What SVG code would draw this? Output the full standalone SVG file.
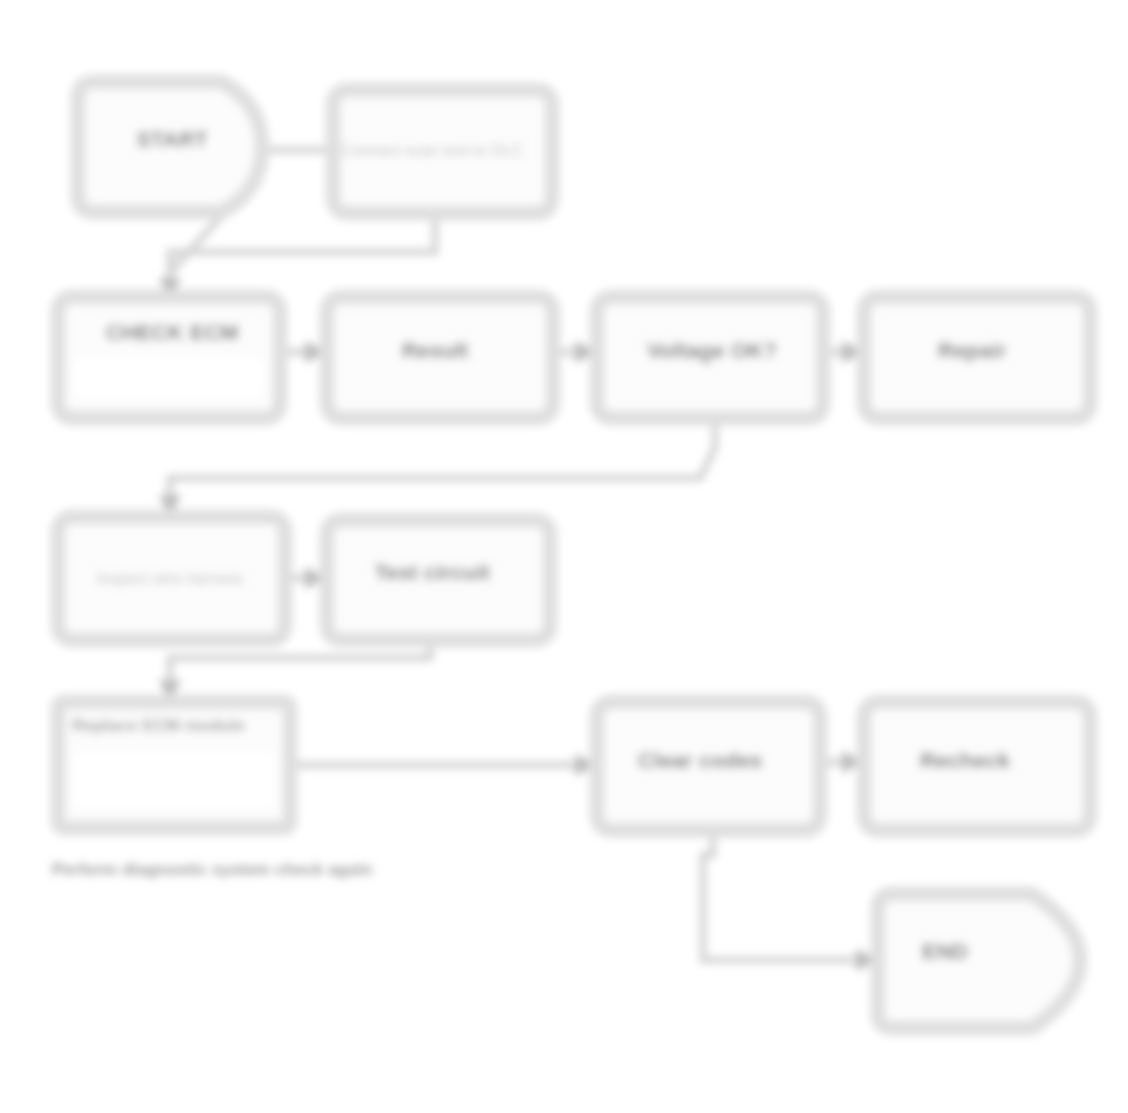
<svg xmlns="http://www.w3.org/2000/svg" width="1128" height="1113" viewBox="0 0 1128 1113">
<defs>
<filter id="soft" x="-5%" y="-5%" width="110%" height="110%"><feGaussianBlur stdDeviation="4"/></filter>
<marker id="arr" viewBox="0 0 10 10" refX="9" refY="5" markerWidth="3.2" markerHeight="3.2" orient="auto"><path d="M0,0 L10,5 L0,10 z" fill="#bdbdbd"/></marker>
</defs>
<style>
.box{fill:#fcfcfc;stroke:#dfdfdf;stroke-width:15}
.inner{fill:#ffffff;stroke:none}
.t{font-family:"Liberation Sans",Arial,sans-serif;font-weight:bold;font-size:22px;fill:#6e6e6e;text-anchor:middle}
.thin{font-family:"Liberation Sans",Arial,sans-serif;font-size:16px;fill:#bdbdbd;text-anchor:middle}
.small{font-family:"Liberation Sans",Arial,sans-serif;font-weight:bold;font-size:17px;fill:#9a9a9a}
.c{fill:none;stroke:#d4d4d4;stroke-width:7}
</style>
<rect width="1128" height="1113" fill="#ffffff"/>
<g filter="url(#soft)">
<g id="connectors">
<line class="c" x1="262" y1="150" x2="332" y2="150"/>
<polyline class="c" points="435,213 435,252 170,252 170,298" marker-end="url(#arr)"/>
<polyline class="c" points="225,212 168,275"/>
<line class="c" x1="280" y1="352" x2="325" y2="352" marker-end="url(#arr)"/>
<line class="c" x1="553" y1="352" x2="595" y2="352" marker-end="url(#arr)"/>
<line class="c" x1="823" y1="352" x2="862" y2="352" marker-end="url(#arr)"/>
<polyline class="c" points="715,418 715,448 700,478 170,478 170,515" marker-end="url(#arr)"/>
<line class="c" x1="285" y1="578" x2="325" y2="578" marker-end="url(#arr)"/>
<polyline class="c" points="430,640 430,658 170,658 170,700" marker-end="url(#arr)"/>
<line class="c" x1="290" y1="765" x2="595" y2="765" marker-end="url(#arr)"/>
<line class="c" x1="820" y1="762" x2="862" y2="762" marker-end="url(#arr)"/>
<polyline class="c" points="713,830 713,855 703,855 703,960 876,960" marker-end="url(#arr)"/>
</g>
<g id="nA">
<path class="box" d="M94 82 H222 Q262 104 262 147 Q262 190 222 212 H94 Q78 212 78 196 V98 Q78 82 94 82 Z"/>
<text class="t" x="172" y="147">START</text>
</g>
<g id="nB">
<rect class="box" x="333" y="90" width="219" height="123" rx="14"/>
<text class="thin" x="432" y="156">Connect scan tool to DLC</text>
</g>
<g id="nC">
<rect class="box" x="58" y="297" width="222" height="121" rx="14"/>
<rect class="inner" x="74" y="358" width="190" height="40" rx="8"/>
<text class="t" x="172" y="340" font-size="26">CHECK ECM</text>
</g>
<g id="nD">
<rect class="box" x="327" y="297" width="226" height="121" rx="14"/>
<text class="t" x="435" y="358">Result</text>
</g>
<g id="nE">
<rect class="box" x="597" y="297" width="226" height="121" rx="14"/>
<text class="t" x="712" y="358">Voltage OK?</text>
</g>
<g id="nF">
<rect class="box" x="864" y="297" width="226" height="121" rx="14"/>
<text class="t" x="972" y="358">Repair</text>
</g>
<g id="nG">
<rect class="box" x="58" y="517" width="227" height="123" rx="14"/>
<text class="thin" x="170" y="584">Inspect wire harness</text>
</g>
<g id="nH">
<rect class="box" x="327" y="520" width="223" height="120" rx="14"/>
<text class="t" x="432" y="580">Test circuit</text>
</g>
<g id="nI">
<rect class="box" x="58" y="702" width="232" height="126" rx="6"/>
<rect class="inner" x="74" y="752" width="200" height="56" rx="4"/>
<text class="small" x="72" y="731">Replace ECM module</text>
<text class="small" x="52" y="875">Perform diagnostic system check again</text>
</g>
<g id="nJ">
<rect class="box" x="597" y="702" width="223" height="128" rx="14"/>
<text class="t" x="700" y="768">Clear codes</text>
</g>
<g id="nK">
<rect class="box" x="864" y="702" width="226" height="128" rx="14"/>
<text class="t" x="965" y="768">Recheck</text>
</g>
<g id="nL">
<path class="box" d="M892 894 H1032 Q1080 926 1080 960 Q1080 996 1032 1028 H892 Q878 1028 878 1014 V908 Q878 894 892 894 Z"/>
<text class="t" x="945" y="959">END</text>
</g>
</g>
</svg>
